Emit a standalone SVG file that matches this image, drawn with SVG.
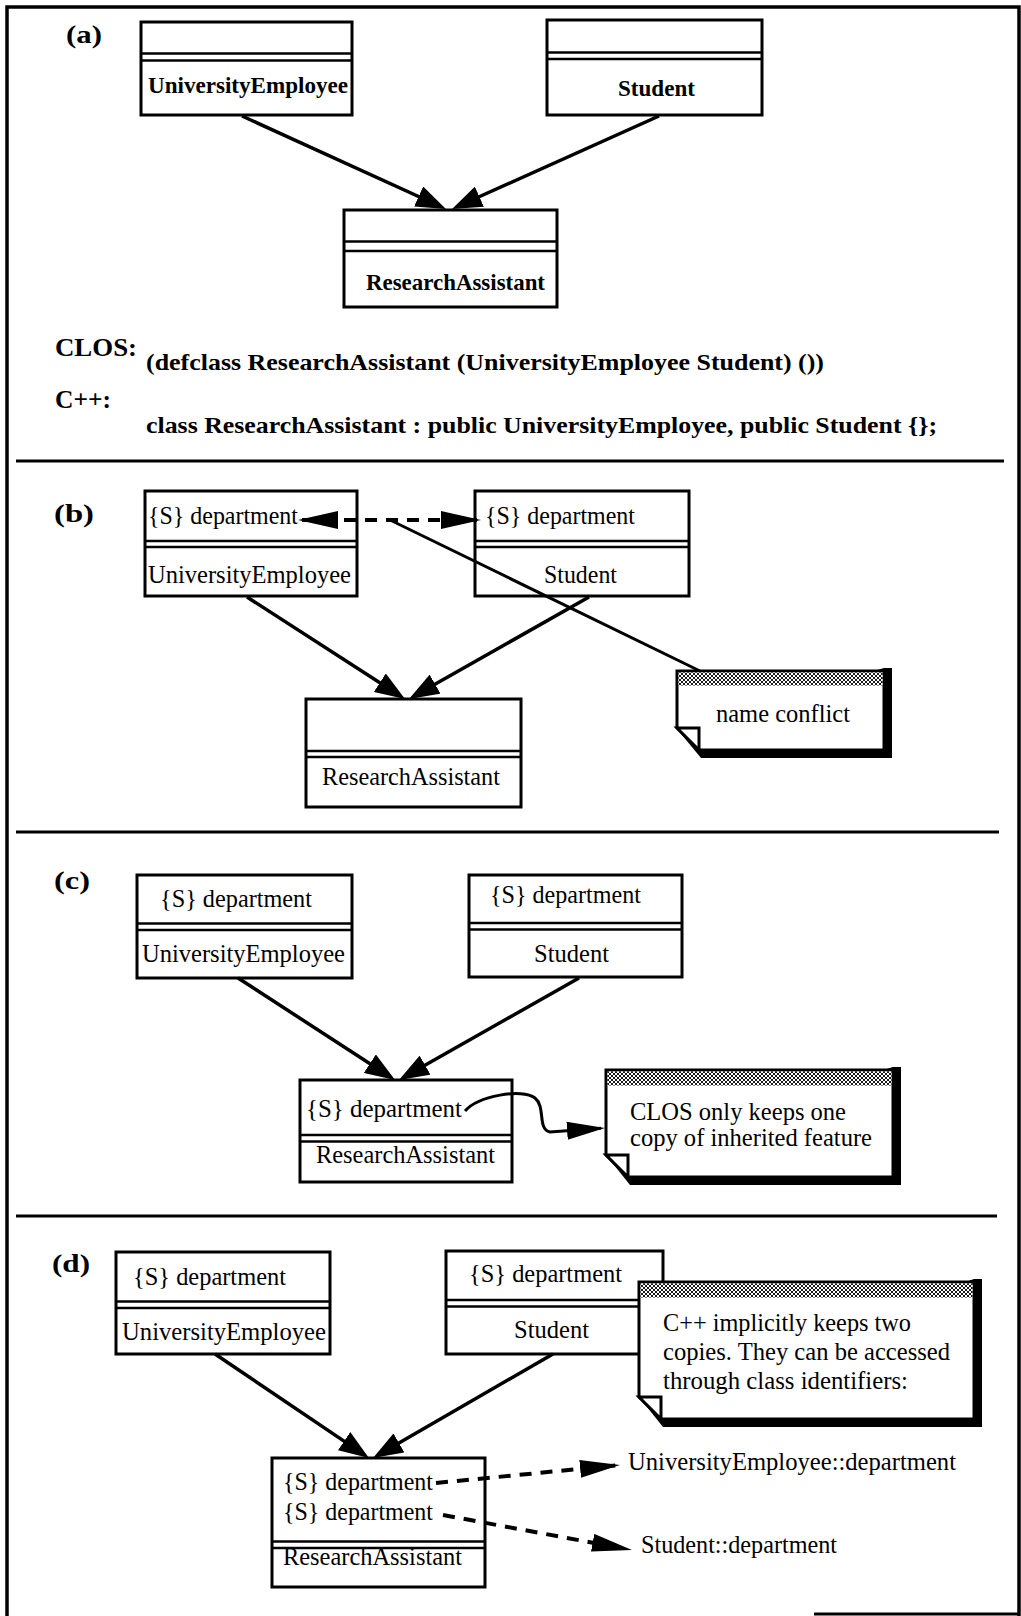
<svg xmlns="http://www.w3.org/2000/svg" width="1021" height="1616" viewBox="0 0 1021 1616">
  <defs>
    <style>
      .box { fill: #fff; stroke: #000; stroke-width: 3; }
      .sep { stroke: #000; stroke-width: 2.5; }
      .t { font-family: "Liberation Serif", "Times New Roman", serif; font-size: 25px; fill: #000; }
      .tb { font-family: "Liberation Serif", "Times New Roman", serif; font-size: 24px; font-weight: bold; fill: #000; }
      .lbl { font-family: "Liberation Serif", "Times New Roman", serif; font-size: 26px; font-weight: bold; fill: #000; }
      .inh { fill: none; stroke: #000; stroke-width: 3.5; marker-end: url(#head); }
      .dash { fill: none; stroke: #000; stroke-width: 4; stroke-dasharray: 12 9; }
      .rule { stroke: #000; stroke-width: 3; }
      .note { fill: #fff; stroke: #000; stroke-width: 3; }
      .shadow { fill: #000; }
      .band { fill: url(#hatch); stroke: none; }
    </style>
    <pattern id="hatch" width="4" height="4" patternUnits="userSpaceOnUse">
      <rect width="4" height="4" fill="#fff"/>
      <path d="M0,0 L4,4 M4,0 L0,4" stroke="#000" stroke-width="0.9"/>
    </pattern>
    <marker id="head" markerUnits="userSpaceOnUse" markerWidth="30" markerHeight="22" refX="24" refY="11" orient="auto">
      <path d="M0,0 L30,11 L0,22 Z" fill="#000"/>
    </marker>
    <marker id="dhead" markerUnits="userSpaceOnUse" markerWidth="40" markerHeight="18" refX="36" refY="9" orient="auto-start-reverse">
      <path d="M0,0 L40,9 L0,18 Z" fill="#000"/>
    </marker>
    <marker id="chead" markerUnits="userSpaceOnUse" markerWidth="38" markerHeight="18" refX="34" refY="9" orient="auto">
      <path d="M0,0 L38,9 L0,18 Z" fill="#000"/>
    </marker>
  </defs>

  <rect width="1021" height="1616" fill="#fff"/>

  <!-- outer frame and section rules -->
  <g id="frame">
    <path d="M7,1616 V7 H1019 V1616" fill="none" stroke="#000" stroke-width="3.5"/>
    <path d="M814,1614 H1019" stroke="#000" stroke-width="3"/>
    <line class="rule" x1="16" y1="461" x2="1004" y2="461"/>
    <line class="rule" x1="16" y1="832" x2="999" y2="832"/>
    <line class="rule" x1="16" y1="1216" x2="997" y2="1216" stroke-width="3.5"/>
  </g>

  <!-- section labels and code -->
  <g id="labels">
    <text class="lbl" x="66" y="43" textLength="36" lengthAdjust="spacingAndGlyphs">(a)</text>
    <text class="lbl" x="54" y="522" textLength="40" lengthAdjust="spacingAndGlyphs">(b)</text>
    <text class="lbl" x="54" y="889" textLength="36" lengthAdjust="spacingAndGlyphs">(c)</text>
    <text class="lbl" x="52" y="1272" textLength="38" lengthAdjust="spacingAndGlyphs">(d)</text>
  </g>
  <g id="code">
    <text class="lbl" x="55" y="356" textLength="82" lengthAdjust="spacingAndGlyphs">CLOS:</text>
    <text class="tb" x="146" y="370" textLength="678" lengthAdjust="spacingAndGlyphs">(defclass ResearchAssistant (UniversityEmployee Student) ())</text>
    <text class="lbl" x="55" y="408" textLength="56" lengthAdjust="spacingAndGlyphs">C++:</text>
    <text class="tb" x="146" y="433" textLength="791" lengthAdjust="spacingAndGlyphs">class ResearchAssistant : public UniversityEmployee, public Student {};</text>
  </g>

  <!-- (a) classes -->
  <g id="a-UniversityEmployee">
    <rect class="box" x="141" y="22" width="211" height="93"/>
    <line class="sep" x1="141" y1="53.5" x2="352" y2="53.5"/>
    <line class="sep" x1="141" y1="60.5" x2="352" y2="60.5"/>
    <text class="tb" x="148" y="93" textLength="200" lengthAdjust="spacingAndGlyphs">UniversityEmployee</text>
  </g>
  <g id="a-Student">
    <rect class="box" x="547" y="20" width="215" height="95"/>
    <line class="sep" x1="547" y1="52.5" x2="762" y2="52.5"/>
    <line class="sep" x1="547" y1="59" x2="762" y2="59"/>
    <text class="tb" x="618" y="96" textLength="77" lengthAdjust="spacingAndGlyphs">Student</text>
  </g>
  <g id="a-ResearchAssistant">
    <rect class="box" x="344" y="210" width="213" height="97"/>
    <line class="sep" x1="344" y1="241.5" x2="557" y2="241.5"/>
    <line class="sep" x1="344" y1="251" x2="557" y2="251"/>
    <text class="tb" x="366" y="290" textLength="179" lengthAdjust="spacingAndGlyphs">ResearchAssistant</text>
  </g>

  <!-- (b) classes -->
  <g id="b-UniversityEmployee">
    <rect class="box" x="145" y="491" width="212" height="105"/>
    <line class="sep" x1="145" y1="541" x2="357" y2="541"/>
    <line class="sep" x1="145" y1="547" x2="357" y2="547"/>
    <text class="t" x="148" y="524" textLength="150" lengthAdjust="spacingAndGlyphs">{S} department</text>
    <text class="t" x="148" y="583" textLength="203" lengthAdjust="spacingAndGlyphs">UniversityEmployee</text>
  </g>
  <g id="b-Student">
    <rect class="box" x="475" y="491" width="214" height="105"/>
    <line class="sep" x1="475" y1="541" x2="689" y2="541"/>
    <line class="sep" x1="475" y1="547" x2="689" y2="547"/>
    <text class="t" x="485" y="524" textLength="150" lengthAdjust="spacingAndGlyphs">{S} department</text>
    <text class="t" x="544" y="583" textLength="73" lengthAdjust="spacingAndGlyphs">Student</text>
  </g>
  <g id="b-ResearchAssistant">
    <rect class="box" x="306" y="699" width="215" height="108"/>
    <line class="sep" x1="306" y1="751" x2="521" y2="751"/>
    <line class="sep" x1="306" y1="757" x2="521" y2="757"/>
    <text class="t" x="322" y="785" textLength="178" lengthAdjust="spacingAndGlyphs">ResearchAssistant</text>
  </g>

  <!-- (c) classes -->
  <g id="c-UniversityEmployee">
    <rect class="box" x="137" y="875" width="215" height="103"/>
    <line class="sep" x1="137" y1="923.5" x2="352" y2="923.5"/>
    <line class="sep" x1="137" y1="930" x2="352" y2="930"/>
    <text class="t" x="160" y="907" textLength="152" lengthAdjust="spacingAndGlyphs">{S} department</text>
    <text class="t" x="142" y="962" textLength="203" lengthAdjust="spacingAndGlyphs">UniversityEmployee</text>
  </g>
  <g id="c-Student">
    <rect class="box" x="469" y="875" width="213" height="102"/>
    <line class="sep" x1="469" y1="923" x2="682" y2="923"/>
    <line class="sep" x1="469" y1="929.5" x2="682" y2="929.5"/>
    <text class="t" x="490" y="903" textLength="151" lengthAdjust="spacingAndGlyphs">{S} department</text>
    <text class="t" x="534" y="962" textLength="75" lengthAdjust="spacingAndGlyphs">Student</text>
  </g>
  <g id="c-ResearchAssistant">
    <rect class="box" x="300" y="1080" width="212" height="102"/>
    <line class="sep" x1="300" y1="1135" x2="512" y2="1135"/>
    <line class="sep" x1="300" y1="1141.5" x2="512" y2="1141.5"/>
    <text class="t" x="306" y="1117" textLength="156" lengthAdjust="spacingAndGlyphs">{S} department</text>
    <text class="t" x="316" y="1163" textLength="179" lengthAdjust="spacingAndGlyphs">ResearchAssistant</text>
  </g>

  <!-- (d) classes -->
  <g id="d-UniversityEmployee">
    <rect class="box" x="116" y="1252" width="214" height="102"/>
    <line class="sep" x1="116" y1="1301.5" x2="330" y2="1301.5"/>
    <line class="sep" x1="116" y1="1308" x2="330" y2="1308"/>
    <text class="t" x="133" y="1285" textLength="153" lengthAdjust="spacingAndGlyphs">{S} department</text>
    <text class="t" x="122" y="1340" textLength="204" lengthAdjust="spacingAndGlyphs">UniversityEmployee</text>
  </g>
  <g id="d-Student">
    <rect class="box" x="446" y="1251" width="217" height="103"/>
    <line class="sep" x1="446" y1="1300" x2="663" y2="1300"/>
    <line class="sep" x1="446" y1="1306.5" x2="663" y2="1306.5"/>
    <text class="t" x="469" y="1282" textLength="153" lengthAdjust="spacingAndGlyphs">{S} department</text>
    <text class="t" x="514" y="1338" textLength="75" lengthAdjust="spacingAndGlyphs">Student</text>
  </g>
  <g id="d-ResearchAssistant">
    <rect class="box" x="272" y="1458" width="213" height="129"/>
    <line class="sep" x1="272" y1="1541.5" x2="485" y2="1541.5"/>
    <line class="sep" x1="272" y1="1548" x2="485" y2="1548"/>
    <text class="t" x="283" y="1490" textLength="150" lengthAdjust="spacingAndGlyphs">{S} department</text>
    <text class="t" x="283" y="1520" textLength="150" lengthAdjust="spacingAndGlyphs">{S} department</text>
    <text class="t" x="283" y="1565" textLength="179" lengthAdjust="spacingAndGlyphs">ResearchAssistant</text>
  </g>

  <!-- connectors -->
  <g id="connectors">
    <!-- (a) inheritance -->
    <path class="inh" d="M242,116 L440.5,206.5"/>
    <path class="inh" d="M659,116 L457.5,206.5"/>
    <!-- (b) inheritance -->
    <path class="inh" d="M247,597 L400,695.7"/>
    <path class="inh" d="M589,597 L414.2,696"/>
    <!-- (b) clashing attributes -->
    <path class="dash" d="M302,520 H477" marker-start="url(#dhead)" marker-end="url(#dhead)"/>
    <path d="M388,519 L700,671" fill="none" stroke="#000" stroke-width="3"/>
    <!-- (c) inheritance -->
    <path class="inh" d="M238,978 L390,1076.7"/>
    <path class="inh" d="M579,978 L404.2,1077"/>
    <!-- (c) single copy pointer -->
    <path d="M465,1111 C478,1096 522,1088 535,1098 C546,1107 537,1129 550,1132 L601,1128.3" fill="none" stroke="#000" stroke-width="3" marker-end="url(#chead)"/>
    <!-- (d) inheritance -->
    <path class="inh" d="M215,1354 L364,1454.6"/>
    <path class="inh" d="M553,1354 L378.2,1455"/>
    <!-- (d) qualified access -->
    <path class="dash" d="M436,1483 L616,1465.4" marker-end="url(#dhead)"/>
    <path class="dash" d="M443,1515 L628,1549.3" marker-end="url(#dhead)"/>
  </g>

  <!-- notes -->
  <g id="note-name-conflict">
    <polygon class="shadow" points="677,729 701,758 892,758 892,668 884,668"/>
    <path class="note" d="M677,671 H884 V750 H699 L677,728 Z"/>
    <rect class="band" x="678.5" y="672.5" width="204" height="13"/>
    <path class="note" d="M677,728 H699 V750 Z"/>
    <text class="t" x="716" y="722" textLength="134" lengthAdjust="spacingAndGlyphs">name conflict</text>
  </g>
  <g id="note-clos">
    <polygon class="shadow" points="606,1155 630,1185 901,1185 901,1067 893,1067"/>
    <path class="note" d="M606,1070 H893 V1177 H628 L606,1155 Z"/>
    <rect class="band" x="607.5" y="1071.5" width="284" height="14"/>
    <path class="note" d="M606,1155 H628 V1177 Z"/>
    <text class="t" x="630" y="1120" textLength="216" lengthAdjust="spacingAndGlyphs">CLOS only keeps one</text>
    <text class="t" x="630" y="1146" textLength="242" lengthAdjust="spacingAndGlyphs">copy of inherited feature</text>
  </g>
  <g id="note-cpp">
    <polygon class="shadow" points="639,1397 663,1427 982,1427 982,1279 974,1279"/>
    <path class="note" d="M639,1282 H974 V1419 H661 L639,1397 Z"/>
    <rect class="band" x="640.5" y="1283.5" width="332" height="14"/>
    <path class="note" d="M639,1397 H661 V1419 Z"/>
    <text class="t" x="663" y="1331" textLength="248" lengthAdjust="spacingAndGlyphs">C++ implicitly keeps two</text>
    <text class="t" x="663" y="1360" textLength="287" lengthAdjust="spacingAndGlyphs">copies. They can be accessed</text>
    <text class="t" x="663" y="1389" textLength="245" lengthAdjust="spacingAndGlyphs">through class identifiers:</text>
  </g>

  <!-- qualified names -->
  <g id="qualified-names">
    <text class="t" x="628" y="1470" textLength="328" lengthAdjust="spacingAndGlyphs">UniversityEmployee::department</text>
    <text class="t" x="641" y="1553" textLength="196" lengthAdjust="spacingAndGlyphs">Student::department</text>
  </g>
</svg>
